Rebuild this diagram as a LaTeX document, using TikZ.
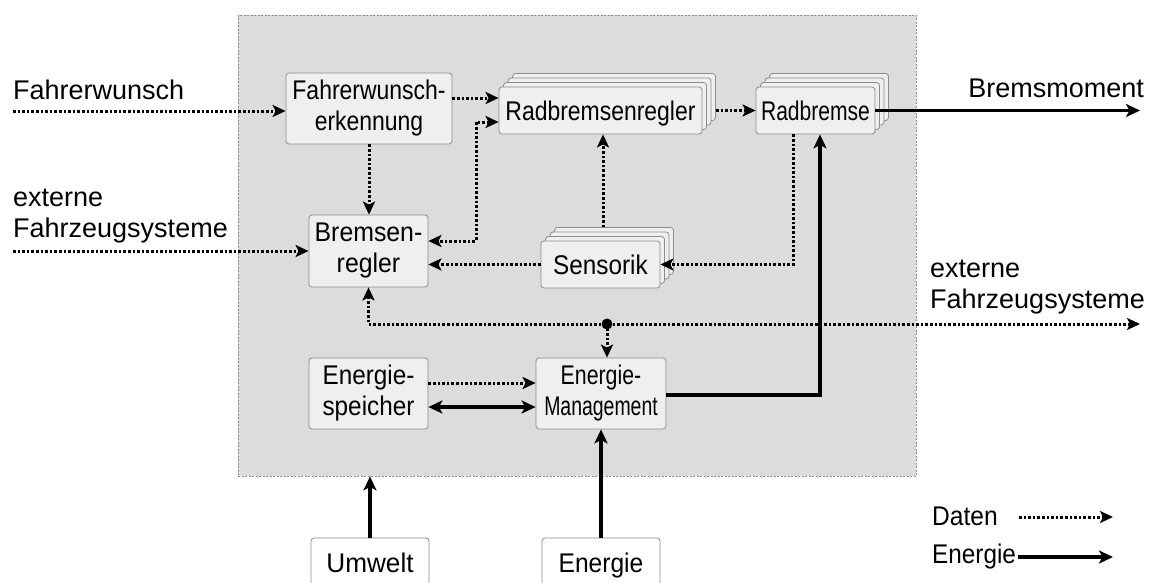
\documentclass[tikz,border=0pt]{standalone}
\usepackage{fontspec}
\setmainfont{Liberation Sans}
\usepackage{graphicx}
\usetikzlibrary{arrows.meta,calc}
\definecolor{panelfill}{HTML}{DCDCDC}
\definecolor{panelline}{HTML}{8A8A8A}
\definecolor{boxfill}{HTML}{EFEFEF}
\definecolor{boxline}{HTML}{8C8C8C}
\newcommand\hs[2]{\scalebox{#1}[1]{#2}}
\tikzset{
  dtip/.tip={Stealth[length=13pt,width=12pt,inset=3pt]},
  etip/.tip={Stealth[length=14pt,width=13pt,inset=3.5pt]},
}
\begin{document}
\begin{tikzpicture}[x=1pt,y=-1pt,
  font=\fontsize{27}{31}\selectfont,
  panel/.style={draw=panelline, fill=panelfill, dash pattern=on 2pt off 1.5pt, line width=0.7pt, inner sep=0pt},
  box/.style={draw=boxline, fill=boxfill, rounded corners=3pt, line width=0.8pt, inner sep=0pt, align=center},
  wbox/.style={box, fill=white},
  one/.style={text height=19.5pt, text depth=0pt},
  lbl/.style={inner sep=0pt, align=left},
  data/.style={line width=3pt, dash pattern=on 2.6pt off 2pt, -dtip},
  energy/.style={line width=3.2pt, -etip},
]
\useasboundingbox (0,0) rectangle (1149,582);
\clip (0,0) rectangle (1149,582);

% panel
\node[panel, minimum width=678pt, minimum height=461pt] (panel) at (577,245.5) {};

% boxes
\node[box, minimum width=166pt, minimum height=71pt] (fwe) at (369,108.5)
  {\hs{.85}{Fahrerwunsch-}\\\hs{.85}{erkennung}};

\foreach \i/\d in {3/13.5,2/9,1/4.5}
  \node[box, minimum width=203pt, minimum height=47pt] (rbr\i) at (600.5+\d,110.5-\d) {};
\node[box, one, minimum width=203pt, minimum height=47pt] (rbr) at (600.5,110.5)
  {\hs{.85}{Radbremsenregler}};

\foreach \i/\d in {3/13.5,2/9,1/4.5}
  \node[box, minimum width=119pt, minimum height=47pt] (rb\i) at (815.5+\d,110.5-\d) {};
\node[box, one, minimum width=119pt, minimum height=47pt] (rb) at (815.5,110.5)
  {\hs{.78}{Radbremse}};

\node[box, minimum width=119pt, minimum height=72pt] (br) at (368.5,251)
  {\hs{.92}{Bremsen-}\\\hs{.92}{regler}};

\foreach \i/\d in {3/13.5,2/9,1/4.5}
  \node[box, minimum width=119pt, minimum height=47pt] (sen\i) at (600.5+\d,264.5-\d) {};
\node[box, one, minimum width=119pt, minimum height=47pt] (sen) at (600.5,264.5)
  {\hs{.9}{Sensorik}};

\node[box, minimum width=119pt, minimum height=71pt] (es) at (368.5,393.5)
  {\hs{.9}{Energie-}\\\hs{.9}{speicher}};
\node[box, minimum width=130pt, minimum height=71pt] (em) at (601,393.5)
  {\hs{.79}{Energie-}\\\hs{.72}{Management}};

\node[wbox, one, minimum width=118pt, minimum height=49pt] (um) at (370,562.5) {\hs{.97}{Umwelt}};
\node[wbox, one, minimum width=118pt, minimum height=49pt] (en) at (601,562.5) {\hs{.91}{Energie}};

% outside labels
\node[lbl, anchor=base west] (lfw) at (13,99) {Fahrerwunsch};
\node[lbl, anchor=base west] (lexl) at (13,237) {externe\\Fahrzeugsysteme};
\node[lbl, anchor=base east] (lbm) at (1144,97) {Bremsmoment};
\node[lbl, anchor=base west] (lexr) at (930,308) {externe\\Fahrzeugsysteme};

% coordinates
\coordinate (fwin) at (13,111);
\coordinate (exin) at (13,251);
\coordinate (bmout) at (1140,110.5);
\coordinate (exout) at (1140,324);
\coordinate (jn) at (607,324);

% data connectors
\draw[data] (fwin) -- (fwin -| fwe.west);
\draw[data] (exin) -- (br.west);
\draw[data] (fwe.south) -- (fwe.south |- br.north);
\draw[data] (fwe.east |- 0,98) -- (rbr.west |- 0,98);
\draw[data, dtip-dtip] (rbr.west |- 0,122) -| (476,241) -- (br.east |- 0,241);
\draw[data] (sen3.north -| 603,0) -- (rbr.south -| 603,0);
\draw[data] (sen.west) -- (sen.west -| br.east);
\draw[data] (rb.south -| 793,0) |- (sen.east);
\draw[data] (rbr3.east |- rb.west) -- (rb.west);
\draw[data, dtip-dtip] (br.south) |- (exout);
\fill (jn) circle (5.5pt);
\draw[data] (jn) -- (jn |- em.north);
\draw[data] (es.east |- 0,383) -- (em.west |- 0,383);

% energy connectors
\draw[energy] (rb.east) -- (bmout);
\draw[energy] (em.east |- 0,395) -| (rb.south -| 820,0);
\draw[energy, etip-etip] (es.east |- 0,407) -- (em.west |- 0,407);
\draw[energy] (um.north) -- (um.north |- panel.south);
\draw[energy] (en.north) -- (em.south);

% legend
\node[lbl, anchor=base west] (ld) at (932,525) {\hs{.91}{Daten}};
\node[lbl, anchor=base west] (le) at (932,563) {\hs{.9}{Energie}};
\coordinate (lda) at (1019,517);
\coordinate (ldb) at (1113,517);
\coordinate (lea) at (1018,557);
\coordinate (leb) at (1113,557);
\draw[data] (lda) -- (ldb);
\draw[energy] (lea) -- (leb);
\end{tikzpicture}
\end{document}
